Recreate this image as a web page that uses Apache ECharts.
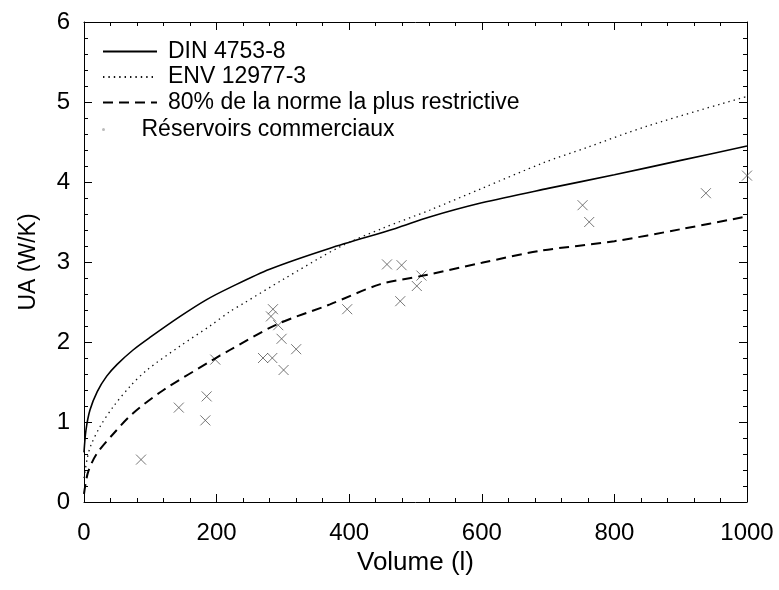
<!DOCTYPE html>
<html>
<head>
<meta charset="utf-8">
<script src="https://cdn.jsdelivr.net/npm/echarts@6/dist/echarts.min.js"></script>
<style>
html,body{margin:0;padding:0;background:#fff;}
#chart{width:779px;height:590px;}
</style>
</head>
<body>
<div id="chart"></div>
<script>
// ---- data ----
const dinV   = [0, 3, 9, 20, 34, 50, 74, 100, 145, 185, 220, 280, 370, 470, 520, 600, 700, 800, 900, 1000];
const dinUA  = [0.62, 0.9, 1.15, 1.38, 1.57, 1.72, 1.9, 2.06, 2.32, 2.53, 2.68, 2.91, 3.17, 3.42, 3.56, 3.74, 3.92, 4.09, 4.27, 4.45];

const envV   = [0, 5, 10, 24, 44, 70, 95, 145, 190, 220, 240, 300, 386, 450, 522, 600, 693, 758, 850, 1000];
const envUA  = [0.3, 0.55, 0.7, 0.94, 1.19, 1.45, 1.65, 1.95, 2.2, 2.38, 2.48, 2.78, 3.19, 3.42, 3.65, 3.92, 4.24, 4.43, 4.7, 5.07];

const lowV   = [0, 6, 19, 44, 74, 120, 195, 220, 291, 371, 446, 512, 600, 688, 800, 900, 1000];
const lowUA  = [0.1, 0.37, 0.6, 0.85, 1.11, 1.4, 1.78, 1.9, 2.22, 2.47, 2.72, 2.83, 2.99, 3.14, 3.26, 3.41, 3.57];

const tankV  = [86, 143, 183, 185, 198, 270, 284, 285, 282, 293, 298, 320, 301, 397, 457, 479, 477, 509, 502, 752, 762, 938, 1000];
const tankUA = [0.53, 1.18, 1.02, 1.32, 1.78, 1.80, 1.80, 2.41, 2.32, 2.21, 2.04, 1.91, 1.65, 2.41, 2.97, 2.96, 2.51, 2.83, 2.70, 3.71, 3.50, 3.86, 4.08];

const seriesNames = ['DIN 4753-8', 'ENV 12977-3', '80% de la norme la plus restrictive', 'Réservoirs commerciaux'];
const xTitle = 'Volume (l)';
const yTitle = 'UA (W/K)';

const zip = (a, b) => a.map((v, i) => [v, b[i]]);
const FONT = '"Liberation Sans", Arial, Helvetica, sans-serif';

const chart = echarts.init(document.getElementById('chart'), null, {renderer: 'canvas'});

const baseAxisX = {
  type: 'value', min: 0, max: 1000, interval: 200, splitNumber: 5,
  axisLine: {show: true, onZero: false, lineStyle: {color: '#000', width: 1}},
  axisTick: {show: true, inside: true, length: 8, lineStyle: {color: '#000', width: 1}},
  minorTick: {show: true, splitNumber: 5, length: 4, lineStyle: {color: '#000', width: 1}},
  splitLine: {show: false}
};
const baseAxisY = {
  type: 'value', min: 0, max: 6, interval: 1,
  axisLine: {show: true, onZero: false, lineStyle: {color: '#000', width: 1}},
  axisTick: {show: true, inside: true, length: 8, lineStyle: {color: '#000', width: 1}},
  minorTick: {show: true, splitNumber: 5, length: 4, lineStyle: {color: '#000', width: 1}},
  splitLine: {show: false}
};

const option = {
  backgroundColor: '#fff',
  animation: false,
  textStyle: {fontFamily: FONT},
  grid: {left: 84, right: 32, top: 22, bottom: 88, containLabel: false},
  xAxis: [
    Object.assign({}, baseAxisX, {
      position: 'bottom',
      name: xTitle, nameLocation: 'middle', nameGap: 31,
      nameTextStyle: {fontSize: 26, color: '#000', fontFamily: FONT},
      axisLabel: {show: true, margin: 19, fontSize: 24, color: '#000', fontFamily: FONT,
                  formatter: v => String(v)}
    }),
    Object.assign({}, baseAxisX, {
      position: 'top',
      axisLabel: {show: false}
    })
  ],
  yAxis: [
    Object.assign({}, baseAxisY, {
      position: 'left',
      name: yTitle, nameLocation: 'middle', nameGap: 44, nameRotate: 90,
      nameTextStyle: {fontSize: 23, color: '#000', fontFamily: FONT},
      axisLabel: {show: true, margin: 14, fontSize: 24, color: '#000', fontFamily: FONT}
    }),
    Object.assign({}, baseAxisY, {
      position: 'right',
      axisLabel: {show: false}
    })
  ],
  legend: [
    {
      data: seriesNames.slice(0, 3),
      orient: 'vertical', left: 97, top: 35,
      itemWidth: 54, itemHeight: 14, itemGap: 2.5,
      itemStyle: {opacity: 0},
      textStyle: {fontSize: 23, color: '#000', fontFamily: FONT, padding: [0, 0, 0, 6]},
      selectedMode: false
    },
    {
      data: [{name: seriesNames[3], icon: 'circle'}],
      orient: 'vertical', left: 97, top: 113,
      itemWidth: 54, itemHeight: 3,
      itemStyle: {color: '#aaa', borderWidth: 0},
      textStyle: {fontSize: 23, color: '#000', fontFamily: FONT, padding: [0, 0, 0, 6]},
      selectedMode: false
    }
  ],
  series: [
    {
      name: seriesNames[0], type: 'line', data: zip(dinV, dinUA),
      showSymbol: false, symbol: 'none', smooth: 0.3,
      lineStyle: {color: '#000', width: 1.6, type: 'solid'},
      itemStyle: {color: '#000'}
    },
    {
      name: seriesNames[1], type: 'line', data: zip(envV, envUA),
      showSymbol: false, symbol: 'none', smooth: 0.3,
      lineStyle: {color: '#111', width: 1.3, type: [1.4, 4]},
      itemStyle: {color: '#111'}
    },
    {
      name: seriesNames[2], type: 'line', data: zip(lowV, lowUA),
      showSymbol: false, symbol: 'none', smooth: 0.3,
      lineStyle: {color: '#000', width: 2, type: [10, 6]},
      itemStyle: {color: '#000'}
    },
    {
      name: seriesNames[3], type: 'scatter', data: zip(tankV, tankUA),
      symbol: 'path://M0,0L10,10M10,0L0,10', symbolSize: 10,
      itemStyle: {color: 'rgba(0,0,0,0)', borderColor: '#555', borderWidth: 1}
    }
  ]
};
chart.setOption(option);
</script>
</body>
</html>
